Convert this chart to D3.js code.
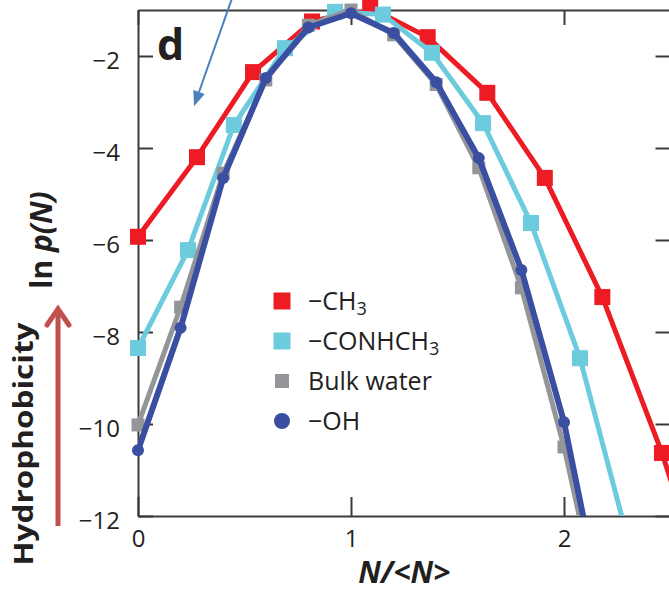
<!DOCTYPE html>
<html>
<head>
<meta charset="utf-8">
<script src="https://cdn.jsdelivr.net/npm/d3@7"></script>
<style>
  body { margin: 0; background: #fff; }
  svg { display: block; }
  text { font-family: "Open Sans", "Noto Sans", sans-serif; fill: #231f20; }
</style>
</head>
<body>
<div id="chart"></div>
<script>
// tick values
const xTicks = [0, 1, 2];
const yTicks = [-2, -4, -6, -8, -10, -12];

// series (last points fall outside the frame and get clipped)
const ch3X = [0, 0.277, 0.54, 0.817, 1.09, 1.36, 1.64, 1.91, 2.18, 2.46, 2.73];
const ch3Y = [-5.93, -4.2, -2.35, -1.25, -0.95, -1.59, -2.8, -4.65, -7.24, -10.63, -14.5];

const conhX = [0, 0.235, 0.45, 0.69, 0.925, 1.15, 1.38, 1.62, 1.845, 2.075, 2.305];
const conhY = [-8.35, -6.22, -3.5, -1.83, -1.04, -1.1, -1.93, -3.46, -5.63, -8.57, -12.6];

const waterX = [0, 0.2, 0.4, 0.6, 0.8, 1.0, 1.2, 1.4, 1.6, 1.8, 2.0, 2.2];
const waterY = [-10.02, -7.46, -4.55, -2.52, -1.33, -1.0, -1.54, -2.62, -4.43, -7.04, -10.5, -14.7];

const ohX = [0, 0.2, 0.4, 0.6, 0.8, 1.0, 1.2, 1.4, 1.6, 1.8, 2.0, 2.2];
const ohY = [-10.57, -7.91, -4.65, -2.48, -1.38, -1.07, -1.5, -2.57, -4.22, -6.65, -9.96, -14.5];

const seriesNames = ["−CH", "−CONHCH", "Bulk water", "−OH"];
const seriesSubs = ["3", "3", "", ""];

const W = 669, H = 591;
const margin = { top: 10, left: 138, bottom: 75 };
const plotH = H - margin.top - margin.bottom;

const x = d3.scaleLinear().domain([0, 2.5]).range([margin.left, margin.left + 2.5 * 213]);
const y = d3.scaleLinear().domain([-12, -1]).range([margin.top + plotH, margin.top]);

const svg = d3.select("#chart").append("svg")
  .attr("width", W)
  .attr("height", H);

svg.append("clipPath").attr("id", "clip")
  .append("rect")
  .attr("x", x(0)).attr("y", y(-1))
  .attr("width", x(2.5) - x(0)).attr("height", y(-12) - y(-1));

const axisColor = "#3a3a3a";

// axes (ticks point inward)
const gLeft = svg.append("g").attr("transform", `translate(${x(0)},0)`)
  .call(d3.axisLeft(y).tickValues(yTicks).tickSizeInner(-15).tickSizeOuter(0).tickPadding(18));
const gRight = svg.append("g").attr("transform", `translate(${x(2.5)},0)`)
  .call(d3.axisRight(y).tickValues(yTicks).tickSizeInner(-15).tickSizeOuter(0).tickFormat(""));
const gBottom = svg.append("g").attr("transform", `translate(0,${y(-12)})`)
  .call(d3.axisBottom(x).tickValues(xTicks).tickFormat(d3.format("d"))
    .tickSizeInner(-19).tickSizeOuter(0).tickPadding(14));
const gTop = svg.append("g").attr("transform", `translate(0,${y(-1)})`)
  .call(d3.axisTop(x).tickValues(xTicks).tickSizeInner(-15).tickSizeOuter(0).tickFormat(""));

[gLeft, gRight, gBottom, gTop].forEach(g => {
  g.selectAll("path.domain").attr("stroke", axisColor).attr("stroke-width", 2);
  g.selectAll(".tick line").attr("stroke", axisColor).attr("stroke-width", 2);
  g.selectAll(".tick text")
    .style("font-family", "'Open Sans', sans-serif")
    .style("font-size", "24px")
    .attr("fill", "#231f20");
});
gLeft.selectAll(".tick text").attr("dy", "0.52em");

// series
const series = [
  { xs: ch3X, ys: ch3Y, color: "#ed1c24", width: 5, shape: "square", size: 16 },
  { xs: conhX, ys: conhY, color: "#6ccbdc", width: 5, shape: "square", size: 16 },
  { xs: waterX, ys: waterY, color: "#939598", width: 5, shape: "square", size: 13 },
  { xs: ohX, ys: ohY, color: "#3a4fa2", width: 6, shape: "circle", size: 6 }
];

const line = d3.line().x(d => x(d[0])).y(d => y(d[1]));

series.forEach(s => {
  const pts = s.xs.map((v, i) => [v, s.ys[i]]);
  svg.append("path")
    .datum(pts)
    .attr("clip-path", "url(#clip)")
    .attr("fill", "none")
    .attr("stroke", s.color)
    .attr("stroke-width", s.width)
    .attr("stroke-linejoin", "round")
    .attr("d", line);

  const shown = pts.filter(d => d[1] >= -12 && d[0] <= 2.5);
  if (s.shape === "square") {
    svg.selectAll(null).data(shown).enter().append("rect")
      .attr("x", d => x(d[0]) - s.size / 2)
      .attr("y", d => y(d[1]) - s.size / 2)
      .attr("width", s.size)
      .attr("height", s.size)
      .attr("fill", s.color);
  } else {
    svg.selectAll(null).data(shown).enter().append("circle")
      .attr("cx", d => x(d[0]))
      .attr("cy", d => y(d[1]))
      .attr("r", s.size)
      .attr("fill", s.color);
  }
});

// legend
const legend = svg.append("g").attr("transform", "translate(282,301)");
series.forEach((s, i) => {
  const row = legend.append("g").attr("transform", `translate(0,${i * 40})`);
  if (s.shape === "square") {
    const sz = s.size + 1;
    row.append("rect").attr("x", -sz / 2).attr("y", -sz / 2)
      .attr("width", sz).attr("height", sz).attr("fill", s.color);
  } else {
    row.append("circle").attr("r", 8).attr("fill", s.color);
  }
  const t = row.append("text").attr("x", 26).attr("dy", "0.36em")
    .style("font-size", "25px")
    .text(seriesNames[i]);
  if (seriesSubs[i]) {
    t.append("tspan").attr("dy", "0.3em").style("font-size", "18px").text(seriesSubs[i]);
  }
});

// panel letter
svg.append("text")
  .attr("x", 157).attr("y", 60)
  .style("font-size", "43px").style("font-weight", "bold")
  .text("d");

// axis titles
svg.append("text")
  .attr("x", x(1.25)).attr("y", 583)
  .attr("text-anchor", "middle")
  .style("font-size", "30px").style("font-weight", "bold").style("font-style", "italic")
  .text("N/<N>");

const yl = svg.append("text")
  .attr("transform", "translate(52,240) rotate(-90)")
  .attr("text-anchor", "middle")
  .style("font-size", "30px").style("font-weight", "bold");
yl.append("tspan").text("ln ");
yl.append("tspan").style("font-style", "italic").text("p(N)");

svg.append("text")
  .attr("transform", "translate(33,444) rotate(-90)")
  .attr("text-anchor", "middle")
  .attr("textLength", 243).attr("lengthAdjust", "spacingAndGlyphs")
  .style("font-size", "26px").style("font-weight", "bold")
  .attr("fill", "#000")
  .text("Hydrophobicity");

// red arrow
const redArrow = "#c0504d";
svg.append("line")
  .attr("x1", 58).attr("y1", 526).attr("x2", 58).attr("y2", 309)
  .attr("stroke", redArrow).attr("stroke-width", 5);
svg.append("path")
  .attr("d", "M47,325 L58,309 L69,325")
  .attr("fill", "none").attr("stroke", redArrow).attr("stroke-width", 5)
  .attr("stroke-linecap", "round").attr("stroke-linejoin", "miter");

// blue pointer arrow at the top
const bx1 = x(0.441), by1 = y(-0.75), bx2 = x(0.263), by2 = y(-3.09);
const ang = Math.atan2(by2 - by1, bx2 - bx1);
const hl = 15, hw = 6;
const baseX = bx2 - hl * Math.cos(ang), baseY = by2 - hl * Math.sin(ang);
svg.append("line")
  .attr("x1", bx1).attr("y1", by1).attr("x2", baseX).attr("y2", baseY)
  .attr("stroke", "#4a7ebf").attr("stroke-width", 2);
svg.append("path")
  .attr("d", `M${bx2},${by2} L${baseX - hw * Math.sin(ang)},${baseY + hw * Math.cos(ang)} L${baseX + hw * Math.sin(ang)},${baseY - hw * Math.cos(ang)} Z`)
  .attr("fill", "#4a7ebf");
</script>
</body>
</html>
